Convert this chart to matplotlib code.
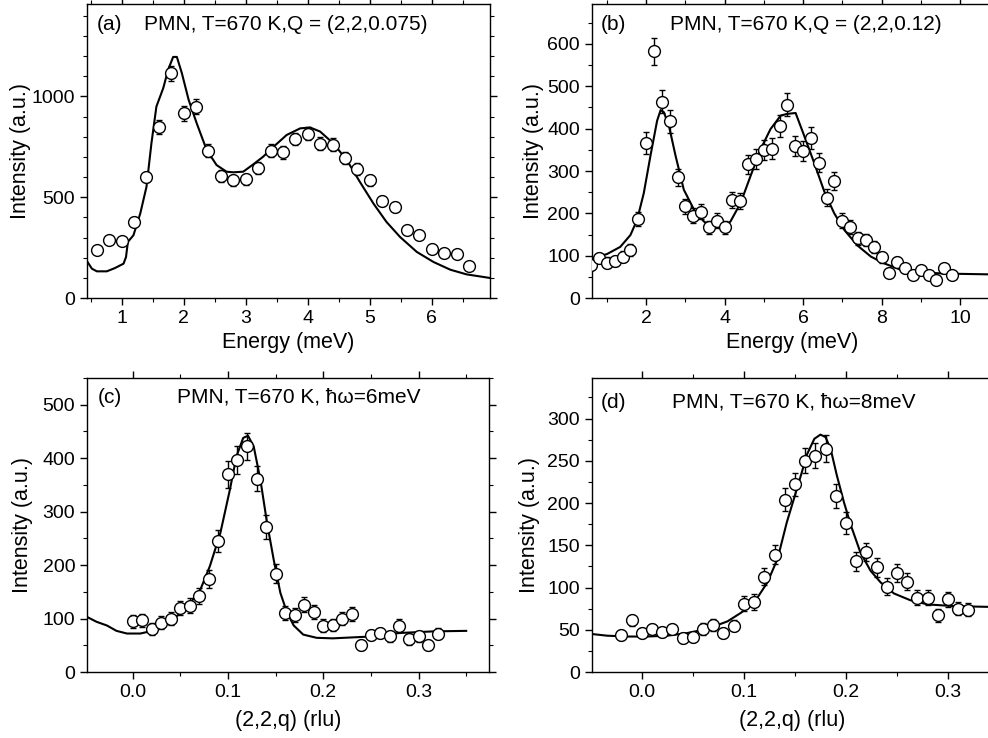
import matplotlib
matplotlib.use("Agg")
import matplotlib.pyplot as plt
from matplotlib.ticker import MultipleLocator

plt.rcParams['font.family'] = ['Liberation Sans', 'DejaVu Sans']

# (a) energy scan, Q = (2,2,0.075)
e_a = [0.6, 0.8, 1.0, 1.2, 1.4, 1.6, 1.8, 2.0, 2.2, 2.4, 2.6, 2.8, 3.0, 3.2, 3.4, 3.6,
       3.8, 4.0, 4.2, 4.4, 4.6, 4.8, 5.0, 5.2, 5.4, 5.6, 5.8, 6.0, 6.2, 6.4, 6.6]
i_a = [240, 287, 282, 380, 602, 849, 1114, 917, 949, 731, 605, 585, 590, 647, 730, 723,
       789, 816, 766, 761, 693, 640, 584, 481, 451, 337, 313, 242, 224, 221, 159]
err_a = [15, 15, 15, 20, 25, 33, 37, 38, 38, 32, 28, 28, 28, 30, 32, 32,
         32, 32, 32, 32, 30, 30, 28, 25, 25, 20, 20, 18, 18, 18, 15]
fit_e_a = [0.45, 0.52, 0.6, 0.76, 0.89, 1.03, 1.07, 1.1, 1.19, 1.3, 1.4, 1.48, 1.56, 1.67,
           1.75, 1.83, 1.89, 1.97, 2.08, 2.21, 2.37, 2.53, 2.69, 2.8, 2.96, 3.12, 3.28,
           3.45, 3.66, 3.88, 4.04, 4.2, 4.41, 4.63, 4.84, 5.06, 5.27, 5.49, 5.76, 6.03,
           6.3, 6.56, 6.94]
fit_i_a = [179, 146, 133, 133, 149, 171, 204, 279, 312, 420, 552, 768, 950, 1041,
           1133, 1196, 1196, 1116, 983, 867, 735, 660, 627, 624, 627, 663, 701,
           751, 809, 842, 846, 826, 768, 685, 577, 469, 378, 303, 229, 179,
           141, 118, 100]

# (b) energy scan, Q = (2,2,0.12)
e_b = [0.6, 0.8, 1.0, 1.2, 1.4, 1.6, 1.8, 2.0, 2.2, 2.4, 2.6, 2.8, 3.0, 3.2, 3.4, 3.6,
       3.8, 4.0, 4.2, 4.4, 4.6, 4.8, 5.0, 5.2, 5.4, 5.6, 5.8, 6.0, 6.2, 6.4, 6.6, 6.8,
       7.0, 7.2, 7.4, 7.6, 7.8, 8.0, 8.2, 8.4, 8.6, 8.8, 9.0, 9.2, 9.4, 9.6, 9.8]
i_b = [78, 95, 84, 87, 98, 113, 187, 366, 583, 464, 417, 285, 217, 195, 204, 167,
       183, 167, 232, 230, 316, 329, 350, 353, 407, 457, 359, 348, 378, 320, 237, 276,
       183, 168, 141, 137, 120, 96, 60, 86, 70, 55, 67, 54, 42, 70, 54]
err_b = [12, 12, 12, 12, 13, 14, 17, 25, 32, 28, 27, 21, 18, 17, 18, 16,
         17, 16, 19, 19, 23, 23, 24, 24, 26, 28, 24, 24, 25, 23, 20, 21,
         17, 17, 15, 15, 14, 13, 10, 11, 10, 9, 10, 9, 8, 10, 9]
fit_e_b = [0.6, 1.0, 1.34, 1.6, 1.77, 1.94, 2.11, 2.28, 2.37, 2.45, 2.58, 2.75, 2.96,
           3.22, 3.47, 3.73, 3.98, 4.15, 4.41, 4.66, 4.92, 5.17, 5.43, 5.6, 5.81, 6.03,
           6.28, 6.54, 6.79, 7.05, 7.39, 7.73, 8.07, 8.49, 9.0, 9.6, 10.84]
fit_i_b = [94, 104, 121, 149, 185, 248, 336, 419, 444, 439, 407, 336, 256,
           209, 181, 167, 167, 181, 225, 288, 352, 399, 431, 435, 437, 383,
           320, 252, 201, 161, 124, 98, 82, 67, 61, 58, 56]

# (c) q scan, hw = 6 meV
q_c = [0.00, 0.01, 0.02, 0.03, 0.04, 0.05, 0.06, 0.07, 0.08, 0.09, 0.10, 0.11, 0.12,
       0.13, 0.14, 0.15, 0.16, 0.17, 0.18, 0.19, 0.20, 0.21, 0.22, 0.23, 0.24, 0.25,
       0.26, 0.27, 0.28, 0.29, 0.30, 0.31, 0.32]
i_c = [95, 97, 80, 92, 100, 119, 124, 143, 174, 245, 370, 397, 422,
       362, 271, 184, 110, 107, 126, 113, 87, 88, 100, 108, 51, 69,
       73, 67, 87, 61, 67, 50, 72]
err_c = [12, 12, 11, 12, 12, 13, 14, 15, 17, 21, 25, 26, 26,
         24, 22, 18, 13, 13, 14, 13, 12, 12, 12, 13, 9, 10,
         10, 10, 12, 10, 10, 9, 10]
fit_q_c = [-0.05, -0.038, -0.027, -0.017, -0.006, 0.008, 0.018, 0.029, 0.039, 0.05,
           0.06, 0.071, 0.081, 0.092, 0.102, 0.109, 0.116, 0.121, 0.127, 0.134, 0.141,
           0.148, 0.155, 0.162, 0.169, 0.179, 0.193, 0.21, 0.245, 0.28, 0.315, 0.35]
fit_i_c = [105, 94, 87, 77, 72, 72, 76, 83, 94, 110,
           128, 154, 198, 260, 341, 404, 438, 442, 422, 360, 279,
           210, 148, 111, 87, 70, 64, 63, 66, 73, 76, 77]

# (d) q scan, hw = 8 meV
q_d = [-0.02, -0.01, 0.00, 0.01, 0.02, 0.03, 0.04, 0.05, 0.06, 0.07, 0.08, 0.09, 0.10,
       0.11, 0.12, 0.13, 0.14, 0.15, 0.16, 0.17, 0.18, 0.19, 0.20, 0.21, 0.22, 0.23,
       0.24, 0.25, 0.26, 0.27, 0.28, 0.29, 0.30, 0.31, 0.32]
i_d = [44, 61, 46, 51, 47, 51, 40, 41, 51, 56, 46, 55, 81,
       83, 113, 139, 204, 222, 250, 256, 264, 208, 176, 131, 142, 124,
       101, 117, 107, 88, 88, 67, 86, 75, 74]
err_d = [6, 7, 6, 6, 6, 6, 6, 6, 7, 7, 6, 7, 9,
         9, 10, 11, 14, 14, 15, 15, 16, 14, 13, 11, 11, 11,
         10, 11, 10, 9, 9, 8, 9, 8, 8]
fit_q_d = [-0.049, -0.034, -0.014, 0.005, 0.025, 0.044, 0.064, 0.084, 0.097, 0.11,
           0.123, 0.133, 0.142, 0.152, 0.162, 0.169, 0.175, 0.18, 0.185, 0.191, 0.198,
           0.205, 0.214, 0.224, 0.234, 0.247, 0.263, 0.28, 0.306, 0.344]
fit_i_d = [45, 43, 42, 42, 43, 46, 51, 60, 70, 82,
           106, 134, 177, 217, 258, 276, 281, 278, 264, 233, 201,
           173, 142, 120, 106, 93, 85, 80, 78, 77]


def style_axes(ax, xmaj, xmin, ymaj, ymin):
	ax.xaxis.set_major_locator(MultipleLocator(xmaj))
	ax.xaxis.set_minor_locator(MultipleLocator(xmin))
	ax.yaxis.set_major_locator(MultipleLocator(ymaj))
	ax.yaxis.set_minor_locator(MultipleLocator(ymin))
	ax.tick_params(which='both', direction='out', top=True, right=True, labelsize=14)
	ax.tick_params(which='major', length=5, width=1)
	ax.tick_params(which='minor', length=3, width=0.8)
	for s in ax.spines.values():
		s.set_linewidth(1.0)


def panel(ax, x, y, err, fx, fy, ylab_x):
	ax.plot(fx, fy, color='black', lw=1.5, zorder=2)
	ax.errorbar(x, y, yerr=err, fmt='o', mfc='white', mec='black', ms=8.5, mew=1.0,
		ecolor='black', elinewidth=1.0, capsize=2.5, capthick=1.0, zorder=3)
	ax.set_ylabel("Intensity (a.u.)", fontsize=15.5)
	ax.yaxis.set_label_coords(ylab_x, 0.5)


fig = plt.figure(figsize=(9.88, 7.38), dpi=100)

ax_a = fig.add_axes([0.088, 0.596, 0.408, 0.399])
panel(ax_a, e_a, i_a, err_a, fit_e_a, fit_i_a, -0.139)
ax_a.set_xlim(0.44, 6.94)
ax_a.set_ylim(0, 1460)
style_axes(ax_a, 1, 0.5, 500, 100)
ax_a.set_xlabel("Energy (meV)", fontsize=15.5)
ax_a.xaxis.set_label_coords(0.5, -0.115)
ax_a.text(0.025, 0.929, "(a)", transform=ax_a.transAxes, fontsize=15, va='center')
ax_a.text(0.141, 0.929, "PMN, T=670 K,Q = (2,2,0.075)", transform=ax_a.transAxes,
	fontsize=15, va='center')

ax_b = fig.add_axes([0.599, 0.596, 0.406, 0.399])
panel(ax_b, e_b, i_b, err_b, fit_e_b, fit_i_b, -0.120)
ax_b.set_xlim(0.615, 10.84)
ax_b.set_ylim(0, 695)
style_axes(ax_b, 2, 1, 100, 50)
ax_b.set_xlabel("Energy (meV)", fontsize=15.5)
ax_b.xaxis.set_label_coords(0.5, -0.115)
ax_b.text(0.022, 0.929, "(b)", transform=ax_b.transAxes, fontsize=15, va='center')
ax_b.text(0.195, 0.929, "PMN, T=670 K,Q = (2,2,0.12)", transform=ax_b.transAxes,
	fontsize=15, va='center')

ax_c = fig.add_axes([0.088, 0.0894, 0.407, 0.3984])
panel(ax_c, q_c, i_c, err_c, fit_q_c, fit_i_c, -0.134)
ax_c.set_xlim(-0.048, 0.374)
ax_c.set_ylim(0, 550)
style_axes(ax_c, 0.1, 0.05, 100, 50)
ax_c.set_xlabel("(2,2,q) (rlu)", fontsize=15.5)
ax_c.xaxis.set_label_coords(0.5, -0.13)
ax_c.text(0.027, 0.935, "(c)", transform=ax_c.transAxes, fontsize=15, va='center')
ax_c.text(0.224, 0.935, "PMN, T=670 K, \u0127\u03c9=6meV", transform=ax_c.transAxes,
	fontsize=15, va='center')

ax_d = fig.add_axes([0.599, 0.0894, 0.406, 0.3984])
panel(ax_d, q_d, i_d, err_d, fit_q_d, fit_i_d, -0.130)
ax_d.set_xlim(-0.049, 0.344)
ax_d.set_ylim(0, 348)
style_axes(ax_d, 0.1, 0.05, 50, 25)
ax_d.set_xlabel("(2,2,q) (rlu)", fontsize=15.5)
ax_d.xaxis.set_label_coords(0.5, -0.13)
ax_d.text(0.022, 0.918, "(d)", transform=ax_d.transAxes, fontsize=15, va='center')
ax_d.text(0.2, 0.918, "PMN, T=670 K, \u0127\u03c9=8meV", transform=ax_d.transAxes,
	fontsize=15, va='center')

fig.savefig("out.png", dpi=100)
